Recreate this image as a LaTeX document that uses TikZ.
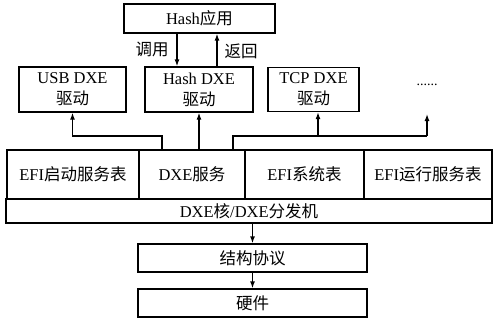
\documentclass[tikz,border=0pt]{standalone}
\usepackage{fontspec}
\setmainfont{Liberation Serif}
\newfontfamily\cjk{Noto Sans CJK SC}
\usetikzlibrary{arrows.meta}
\begin{document}
\begin{tikzpicture}[x=1pt,y=-1pt,
  box/.style={draw, line width=1.3pt, inner sep=0pt, align=center,
    font=\fontsize{16.5}{21}\selectfont},
  lbl/.style={inner sep=0pt, font=\fontsize{16.5}{21}\selectfont},
  ln/.style={line width=1.3pt},
  arr/.style={line width=1.3pt, -{Latex[length=7pt,width=5pt]}}]
\useasboundingbox (0,0) rectangle (494,321);
% top
\node[box, minimum width=151pt, minimum height=29pt] (app) at (199.5,18.5) {Hash{\cjk 应用}};
% drivers
\node[box, minimum width=107pt, minimum height=45pt] (usb) at (72.5,89.5) {USB DXE\\{\cjk 驱动}};
\node[box, minimum width=108pt, minimum height=45pt] (hashd) at (199,89.5) {Hash DXE\\{\cjk 驱动}};
\node[box, minimum width=91pt, minimum height=44pt] (tcp) at (313.5,89.5) {TCP DXE\\{\cjk 驱动}};
\node[lbl, font=\fontsize{14}{18}\selectfont] (dots) at (427,85) {......};
% services row
\node[box, minimum width=132pt, minimum height=49pt] (boot) at (73,174.5) {EFI{\cjk 启动服务表}};
\node[box, minimum width=106pt, minimum height=49pt] (dxs) at (192,174.5) {DXE{\cjk 服务}};
\node[box, minimum width=119pt, minimum height=49pt] (sys) at (304.5,174.5) {EFI{\cjk 系统表}};
\node[box, minimum width=128pt, minimum height=49pt] (rt) at (428,174.5) {EFI{\cjk 运行服务表}};
\node[box, minimum width=486pt, minimum height=24pt] (core) at (249,211) {DXE{\cjk 核}/DXE{\cjk 分发机}};
\node[box, minimum width=229pt, minimum height=28pt] (struct) at (252.5,258) {\cjk 结构协议};
\node[box, minimum width=229pt, minimum height=28pt] (hw) at (252.5,303) {\cjk 硬件};
% call / return
\coordinate (xc) at (177,0);
\coordinate (xr) at (217,0);
\draw[arr] (xc |- app.south) -- (xc |- hashd.north);
\draw[arr] (xr |- hashd.north) -- (xr |- app.south);
\node[lbl] (call) at (152,49) {\cjk 调用};
\node[lbl] (ret) at (241,51) {\cjk 返回};
% service to drivers
\coordinate (j1) at (162,136);
\coordinate (j2) at (233,136);
\coordinate (j3) at (318,136);
\coordinate (j4) at (427,136);
\coordinate (dend) at (427,114);
\draw[arr] (j1 |- dxs.north) -- (j1) -| (usb.south);
\draw[arr] (hashd.south |- dxs.north) -- (hashd.south);
\draw[ln] (j2 |- dxs.north) -- (j2) -- (j4);
\draw[arr] (j3) -- (j3 |- tcp.south);
\draw[arr] (j4) -- (dend);
% down
\draw[arr] (struct.north |- core.south) -- (struct.north);
\draw[arr] (struct.south) -- (hw.north);
\end{tikzpicture}
\end{document}
